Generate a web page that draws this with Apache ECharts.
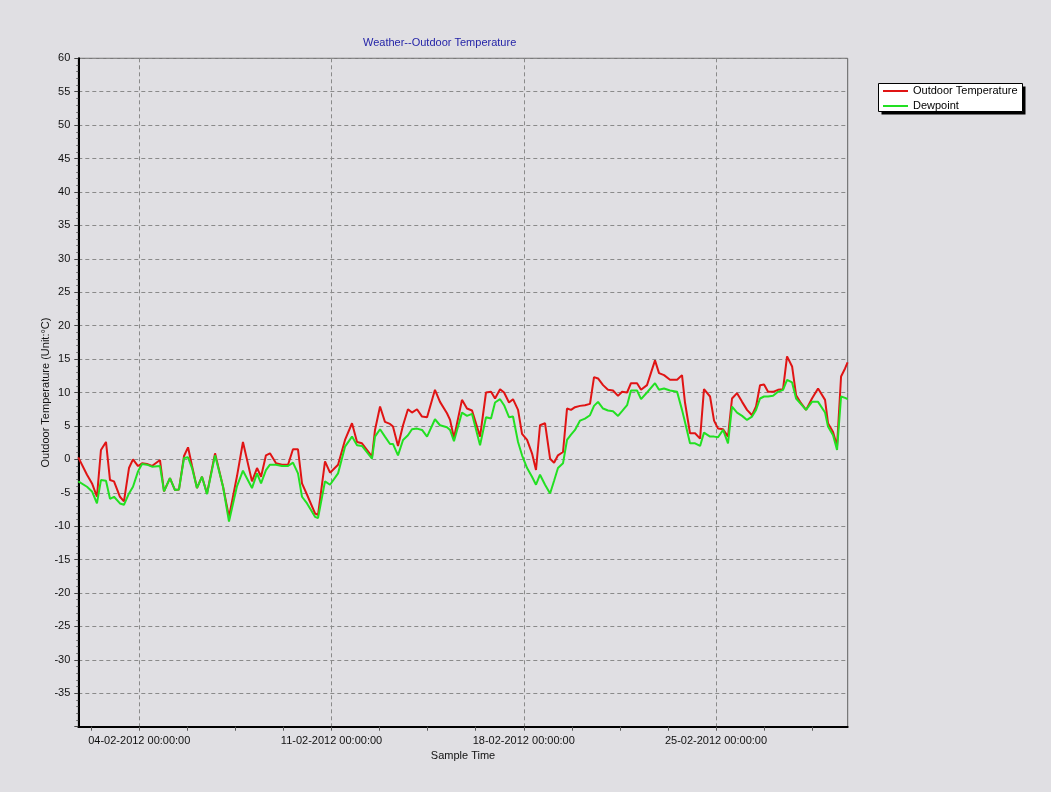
<!DOCTYPE html>
<html><head><meta charset="utf-8">
<script src="https://cdn.jsdelivr.net/npm/echarts@6/dist/echarts.min.js"></script>
<style>html,body{margin:0;padding:0;background:#e0dfe3}#c{width:1051px;height:792px}</style>
</head><body><div id="c"></div>
<script>
// sample time, in hours since 01-02-2012 00:00:00
const sampleHours = [18.7,26.3,30.7,35.0,38.5,42.9,46.4,49.9,55.1,58.6,63.0,66.5,70.9,74.4,78.7,83.1,90.1,93.6,98.8,103.2,106.7,111.1,114.6,118.1,122.4,126.8,131.2,138.2,145.2,150.4,157.4,162.6,170.5,174.9,178.4,182.7,186.2,191.5,196.7,202.0,206.3,210.7,214.2,218.6,225.6,228.2,234.3,238.7,245.7,251.8,257.9,262.3,266.6,275.4,278.0,282.4,286.7,291.1,293.7,298.1,302.5,306.8,310.3,314.7,319.1,323.5,330.4,334.8,340.9,343.6,347.0,354.0,358.4,362.8,369.8,375.0,379.4,382.9,387.3,390.8,395.1,398.6,403.0,406.5,410.9,415.2,418.7,422.2,426.6,431.0,434.5,437.9,442.3,445.8,449.3,452.8,457.2,461.5,465.9,469.4,472.9,477.3,481.6,486.0,490.4,493.9,498.3,501.7,507.0,510.5,515.7,522.7,526.2,530.6,535.8,542.0,546.3,548.9,553.3,557.7,562.1,565.5,570.8,574.3,577.8,582.2,586.5,590.0,594.4,598.8,603.1,607.5,611.0,614.5,618.0,621.5,625.9,630.2,634.6,638.1,642.5,646.0,649.5,654.7,659.9,665.2,671.3,673.9,678.3,681.8,685.3,688.8,691.0];
const outdoorTemp = [0.3,-2.3,-3.6,-5.6,1.4,2.6,-3.1,-3.3,-5.6,-6.3,-1.3,0,-1.0,-0.6,-0.7,-1.0,-0.1,-4.8,-2.8,-4.6,-4.5,0.5,1.8,-1.0,-4.3,-2.6,-5.1,0.9,-4.1,-8.6,-2.5,2.6,-3.3,-1.3,-2.6,0.6,0.9,-0.6,-0.8,-0.8,1.5,1.5,-3.6,-5.3,-8.1,-8.3,-0.3,-2.0,-0.8,2.9,5.4,2.6,2.4,0.4,4.4,7.9,5.6,5.3,4.9,2.0,5.1,7.5,7.0,7.5,6.4,6.3,10.4,8.6,6.9,5.9,3.2,8.9,7.6,7.3,3.4,10.0,10.1,9.1,10.5,10.0,8.5,9.0,7.4,3.8,2.9,0.9,-1.6,5.1,5.4,0.1,-0.5,0.6,1.1,7.6,7.4,7.8,8.0,8.1,8.3,12.3,12.1,11.1,10.4,10.3,9.5,10.1,10.0,11.4,11.4,10.4,11.1,14.8,12.9,12.6,11.9,11.9,12.6,8.5,3.9,3.9,3.1,10.5,9.4,5.8,4.6,4.5,3.4,9.1,9.9,8.6,7.4,6.6,7.9,11.1,11.2,10.1,10.1,10.4,10.5,15.4,13.9,9.6,8.6,7.4,9.1,10.6,8.9,5.4,4.1,2.0,12.4,13.6,14.5];
const dewpoint = [-3.3,-4.1,-4.8,-6.6,-3.1,-3.2,-5.9,-5.6,-6.6,-6.8,-5.1,-4.1,-1.8,-0.7,-0.8,-1.1,-1.0,-4.8,-2.8,-4.6,-4.5,0.2,0.3,-1.3,-4.3,-2.6,-5.2,0.6,-4.1,-9.3,-4.0,-1.7,-4.3,-2.1,-3.6,-1.6,-0.8,-0.8,-1.0,-1.0,-0.5,-2.1,-5.6,-6.6,-8.6,-8.8,-3.3,-3.8,-2.1,1.9,3.4,2.1,2.0,0.1,3.4,4.5,3.4,2.3,2.3,0.6,2.9,3.6,4.5,4.6,4.4,3.4,6.0,5.1,4.8,4.4,2.7,7.0,6.5,6.8,2.1,6.3,6.1,8.5,9.0,8.1,6.3,6.4,2.6,0.6,-1.3,-2.6,-3.8,-2.3,-3.8,-5.1,-3.2,-1.3,-0.6,2.9,3.7,4.4,5.8,6.1,6.6,8.0,8.6,7.6,7.3,7.2,6.5,7.2,8.1,10.3,10.3,9.0,10.0,11.4,10.4,10.6,10.3,10.1,7.4,5.6,2.4,2.4,2.0,4.0,3.4,3.4,3.3,4.4,2.4,7.9,7.0,6.5,5.9,6.4,7.4,9.1,9.4,9.4,9.5,10.1,10.4,11.9,11.5,9.1,8.4,7.4,8.6,8.6,7.0,4.9,3.6,1.4,9.4,9.2,9.0];
const xLabelHours = [72, 240, 408, 576];
const xTickHours = [30,72,114,156,198,240,282,324,366,408,450,492,534,576,618,660];

function fmtTime(h){
  const d = new Date(Date.UTC(2012,1,1) + Math.round(h*3600000));
  const p = n => String(n).padStart(2,'0');
  return p(d.getUTCDate())+'-'+p(d.getUTCMonth()+1)+'-'+d.getUTCFullYear()+' '+p(d.getUTCHours())+':'+p(d.getUTCMinutes())+':'+p(d.getUTCSeconds());
}
const FONT = 'Liberation Sans';
const chart = echarts.init(document.getElementById('c'));
const xMin = 18.7, xMax = 691.1;
chart.setOption({
  backgroundColor: '#e0dfe3',
  animation: false,
  textStyle: {fontFamily: FONT},
  title: {
    text: 'Weather--Outdoor Temperature', left: 363, top: 37, padding: 0,
    textStyle: {fontSize: 11, fontWeight: 'normal', color: '#2424a8', fontFamily: FONT}
  },
  graphic: [
    {type: 'rect', z: 1, silent: true, shape: {x: 881.5, y: 86.5, width: 144, height: 28},
      style: {fill: '#000000', stroke: null}},
    {type: 'rect', z: 2, silent: true, shape: {x: 878.5, y: 83.5, width: 144, height: 28},
      style: {fill: '#ffffff', stroke: '#000000', lineWidth: 1}}
  ],
  legend: {
    z: 10, orient: 'vertical', left: 878, top: 83, padding: [2,6,2,5], itemGap: 3,
    itemWidth: 25, itemHeight: 2, icon: 'rect', selectedMode: false,
    backgroundColor: 'transparent', borderWidth: 0,
    textStyle: {fontSize: 11, lineHeight: 12, color: '#000', fontFamily: FONT},
    data: ['Outdoor Temperature', 'Dewpoint']
  },
  grid: {left: 78.3, right: 203.3, top: 58.3, bottom: 65.3, containLabel: false, outerBoundsMode: 'none',
    show: true, borderColor: '#606060', borderWidth: 1, backgroundColor: 'transparent'},
  xAxis: [{
    type: 'value', min: xMin, max: xMax, position: 'bottom',
    axisLine: {show: true, onZero: false, lineStyle: {color: '#000', width: 2}},
    axisTick: {show: true, customValues: xTickHours, length: 4, lineStyle: {color: '#555'}},
    axisLabel: {show: false}, splitLine: {show: false}
  }, {
    type: 'value', min: xMin, max: xMax, position: 'bottom',
    axisLine: {show: false, onZero: false},
    axisTick: {show: false, customValues: xLabelHours},
    axisLabel: {show: true, customValues: xLabelHours, formatter: v => fmtTime(v), margin: 9,
      fontSize: 11, color: '#111', fontFamily: FONT},
    splitLine: {show: true, lineStyle: {color: '#8a8a8a', width: 1, type: [4,3]}},
    name: 'Sample Time', nameLocation: 'middle', nameGap: 24, nameMoveOverlap: false,
    nameTextStyle: {fontSize: 11, color: '#111', fontFamily: FONT}
  }],
  yAxis: {
    type: 'value', min: -40, max: 60, interval: 5,
    axisLine: {show: true, onZero: false, lineStyle: {color: '#000', width: 2}},
    axisTick: {show: true, length: 4, lineStyle: {color: '#444'}},
    minorTick: {show: true, splitNumber: 5, length: 2, lineStyle: {color: '#666'}},
    axisLabel: {margin: 8, fontSize: 11, color: '#111', fontFamily: FONT,
      formatter: v => (v === -40 ? '' : String(v))},
    splitLine: {show: true, lineStyle: {color: '#8a8a8a', width: 1, type: [4,3]}},
    name: 'Outdoor Temperature (Unit:°C)', nameLocation: 'middle', nameGap: 27, nameMoveOverlap: false,
    nameTextStyle: {fontSize: 11, color: '#111', fontFamily: FONT}
  },
  series: [{
    name: 'Outdoor Temperature', type: 'line', xAxisIndex: 0, showSymbol: false, symbol: 'none',
    data: sampleHours.map((h, i) => [h, outdoorTemp[i]]),
    lineStyle: {color: '#e01414', width: 2}, itemStyle: {color: '#e01414'}
  }, {
    name: 'Dewpoint', type: 'line', xAxisIndex: 0, showSymbol: false, symbol: 'none',
    data: sampleHours.map((h, i) => [h, dewpoint[i]]),
    lineStyle: {color: '#22e022', width: 2}, itemStyle: {color: '#22e022'}
  }]
});
</script></body></html>
